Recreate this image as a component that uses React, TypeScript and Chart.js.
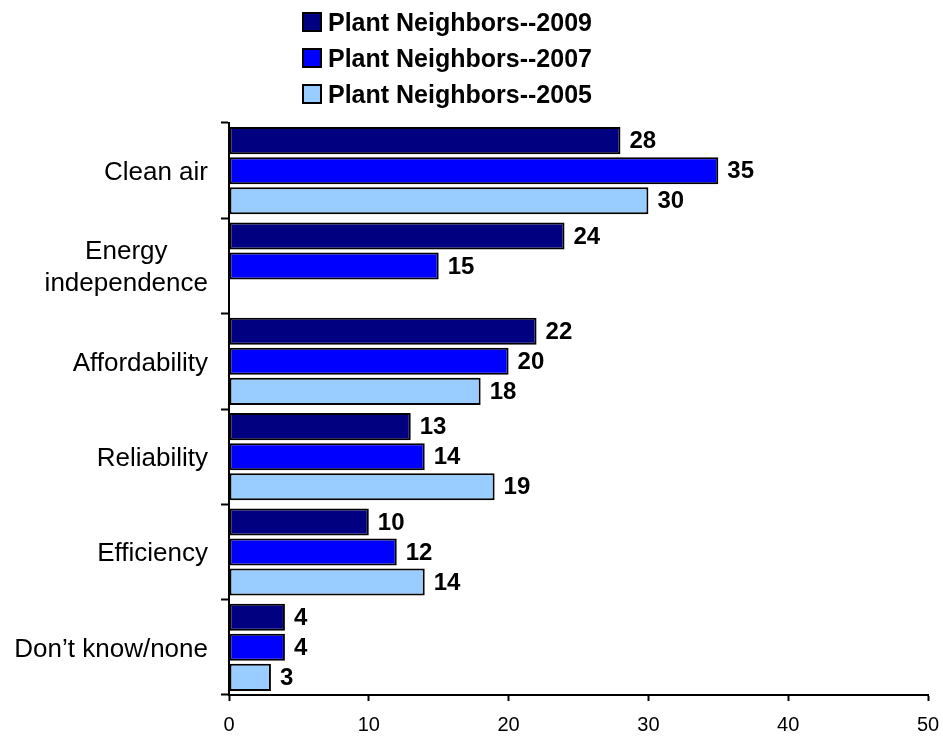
import React, { useEffect, useRef } from 'react';
import { Chart, registerables } from 'chart.js';

Chart.register(...registerables);

const categories: (string | string[])[] = [
  'Clean air',
  ['Energy', 'independence'],
  'Affordability',
  'Reliability',
  'Efficiency',
  'Don\u2019t know/none',
];
const seriesLabels = ['Plant Neighbors--2009', 'Plant Neighbors--2007', 'Plant Neighbors--2005'];
const values2009 = [28, 24, 22, 13, 10, 4];
const values2007 = [35, 15, 20, 14, 12, 4];
const values2005: (number | null)[] = [30, null, 18, 19, 14, 3];
const seriesColors = ['#000080', '#0000FF', '#99CCFF'];
const xMin = 0;
const xMax = 50;
const xStep = 10;

const FONT = '"Liberation Sans", Arial, sans-serif';

const valueLabels = {
  id: 'valueLabels',
  afterDatasetsDraw(chart: any) {
    const ctx = chart.ctx;
    ctx.save();
    ctx.font = `bold 24px ${FONT}`;
    ctx.fillStyle = '#000';
    ctx.textBaseline = 'middle';
    ctx.textAlign = 'left';
    chart.data.datasets.forEach((ds: any, i: number) => {
      const meta = chart.getDatasetMeta(i);
      meta.data.forEach((bar: any, j: number) => {
        const v = ds.data[j];
        if (v == null) return;
        ctx.fillText(String(v), bar.x + 9, bar.y + 1);
      });
    });
    ctx.restore();
  },
};

// y category labels: each label block right-aligned to the axis, lines centred within the block
const categoryLabels = {
  id: 'categoryLabels',
  afterDraw(chart: any) {
    const ctx = chart.ctx;
    const y = chart.scales.y;
    const size = 26;
    const lineH = 32;
    ctx.save();
    ctx.font = `${size}px ${FONT}`;
    ctx.fillStyle = '#000';
    ctx.textBaseline = 'middle';
    ctx.textAlign = 'center';
    const right = chart.chartArea.left - 21;
    chart.data.labels.forEach((lab: any, i: number) => {
      const lines: string[] = Array.isArray(lab) ? lab : [lab];
      const w = Math.max(...lines.map((l) => ctx.measureText(l).width));
      const cx = right - w / 2;
      const cy = y.getPixelForTick(i) + 2;
      const y0 = cy - ((lines.length - 1) * lineH) / 2;
      lines.forEach((l, k) => ctx.fillText(l, cx, y0 + k * lineH));
    });
    ctx.restore();
  },
};

const stackedLegend = {
  id: 'stackedLegend',
  afterDraw(chart: any) {
    const ctx = chart.ctx;
    ctx.save();
    ctx.font = `bold 25px ${FONT}`;
    ctx.textBaseline = 'alphabetic';
    ctx.textAlign = 'left';
    chart.data.datasets.forEach((ds: any, i: number) => {
      const base = 31 + i * 36;
      const bx = 303;
      const size = 18;
      ctx.fillStyle = ds.backgroundColor;
      ctx.fillRect(bx, base - size, size, size);
      ctx.strokeStyle = '#000';
      ctx.lineWidth = 2;
      ctx.strokeRect(bx, base - size, size, size);
      ctx.fillStyle = '#000';
      ctx.fillText(ds.label, bx + size + 7, base);
    });
    ctx.restore();
  },
};

export default function App() {
  const ref = useRef<HTMLCanvasElement>(null);
  useEffect(() => {
    if (!ref.current) return;
    const chart = new Chart(ref.current, {
      type: 'bar',
      data: {
        labels: categories,
        datasets: [
          { label: seriesLabels[0], data: values2009, backgroundColor: seriesColors[0] },
          { label: seriesLabels[1], data: values2007, backgroundColor: seriesColors[1] },
          { label: seriesLabels[2], data: values2005, backgroundColor: seriesColors[2] },
        ].map((d) => ({
          ...d,
          borderColor: '#000',
          borderWidth: 2,
          borderSkipped: false,
          categoryPercentage: 0.945,
          barPercentage: 0.9,
        })) as any,
      },
      options: {
        indexAxis: 'y',
        animation: false,
        responsive: true,
        maintainAspectRatio: false,
        layout: { padding: { top: 123, right: 15, left: 0, bottom: 0 } },
        plugins: {
          legend: { display: false },
          tooltip: { enabled: false },
        },
        scales: {
          x: {
            min: xMin,
            max: xMax,
            ticks: {
              stepSize: xStep,
              color: '#000',
              font: { family: FONT, size: 20 },
              padding: 12,
            },
            grid: {
              drawOnChartArea: false,
              tickLength: 6,
              tickColor: '#000',
              tickWidth: 2,
            },
            border: { color: '#000', width: 2 },
            afterFit(scale: any) {
              scale.height = 41;
              scale.paddingLeft = 0;
              scale.paddingRight = 0;
            },
          },
          y: {
            ticks: { display: false },
            grid: {
              offset: true,
              drawOnChartArea: false,
              tickLength: 8,
              tickColor: '#000',
              tickWidth: 2,
            },
            border: { color: '#000', width: 2 },
            afterFit(scale: any) {
              scale.width = 229;
              scale.paddingTop = 0;
              scale.paddingBottom = 0;
            },
          },
        },
      } as any,
      plugins: [valueLabels, categoryLabels, stackedLegend],
    });
    return () => chart.destroy();
  }, []);

  return (
    <div style={{ position: 'fixed', left: 0, top: 0, width: 943, height: 736, background: '#fff' }}>
      <canvas ref={ref} />
    </div>
  );
}
